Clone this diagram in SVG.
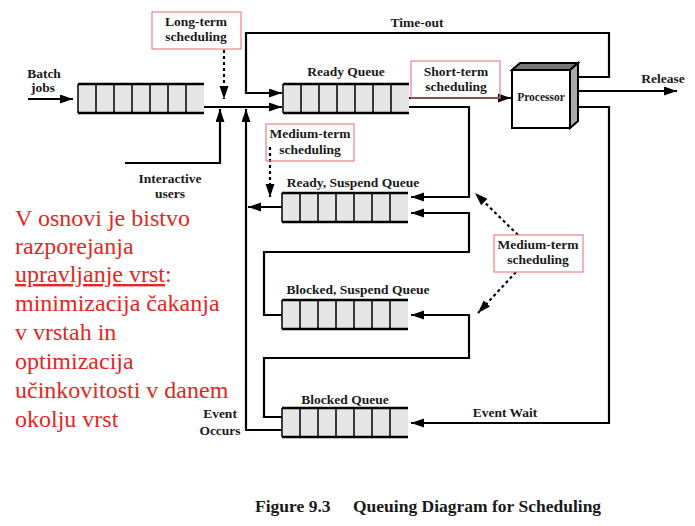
<svg xmlns="http://www.w3.org/2000/svg" width="695" height="526" viewBox="0 0 695 526">
<defs>
<marker id="ah" markerUnits="userSpaceOnUse" markerWidth="14" markerHeight="10" refX="13" refY="4.5" orient="auto">
<path d="M0,0 L13,4.5 L0,9 z" fill="#000"/>
</marker>
<g id="q">
<rect x="0" y="0" width="126" height="29" fill="#e6e6e6"/>
<path d="M0,0 V29 M18,0 V29 M36,0 V29 M54,0 V29 M72,0 V29 M90,0 V29 M108,0 V29" stroke="#000" stroke-width="1.5" fill="none"/>
<path d="M0,0 H126 M0,29 H126" stroke="#000" stroke-width="2.5" fill="none"/>
</g>
</defs>
<style>
.l{font-family:"Liberation Serif","Times New Roman",serif;font-weight:bold;font-size:13.5px;fill:#1a1a1a;text-anchor:middle}
.c{fill:none;stroke:#000;stroke-width:2.2}
.d{fill:none;stroke:#000;stroke-width:2.2;stroke-dasharray:3,3}
.b{fill:#fff;stroke:#ee8080;stroke-width:1.2}
.r{font-family:"Liberation Serif","Times New Roman",serif;font-size:24px;fill:#e5261e}
.cap{font-family:"Liberation Serif","Times New Roman",serif;font-weight:bold;font-size:17.5px;fill:#1a1a1a}
</style>
<rect width="695" height="526" fill="#fff"/>

<g id="connectors">
<path class="c" d="M28,99 H73" marker-end="url(#ah)"/>
<path class="c" d="M204,107 H282" marker-end="url(#ah)"/>
<path class="c" d="M125,163 H220 V109" marker-end="url(#ah)"/>
<path class="c" d="M575,77 H609 V33 H246 V93 H282" marker-end="url(#ah)"/>
<path class="c" d="M409,98 H511" marker-end="url(#ah)"/>
<path class="c" d="M576,91 H677" marker-end="url(#ah)"/>
<path class="c" d="M576,107 H609 V423 H411" marker-end="url(#ah)"/>
<path class="c" d="M409,107 H469 V197 H411" marker-end="url(#ah)"/>
<path class="c" d="M282,315 H264 V252 H469 V213 H411" marker-end="url(#ah)"/>
<path class="c" d="M282,417 H264 V358 H469 V315 H411" marker-end="url(#ah)"/>
<path class="c" d="M282,430 H246 V109" marker-end="url(#ah)"/>
<path class="c" d="M282,207 H248" marker-end="url(#ah)"/>
<path class="d" d="M224,50 V99" marker-end="url(#ah)"/>
<path class="d" d="M270,147 V197" marker-end="url(#ah)"/>
<path class="d" d="M518,235 L475,193" marker-end="url(#ah)"/>
<path class="d" d="M516,272 L478,313" marker-end="url(#ah)"/>
</g>

<g id="batch-queue">
<use href="#q" x="78" y="84"/>
<text class="l" x="44" y="78">Batch</text>
<text class="l" x="43" y="92">jobs</text>
</g>
<g id="ready-queue">
<use href="#q" x="283" y="84"/>
<text class="l" x="346" y="76">Ready Queue</text>
</g>
<g id="ready-suspend-queue">
<use href="#q" x="282" y="193"/>
<text class="l" x="353" y="187">Ready, Suspend Queue</text>
</g>
<g id="blocked-suspend-queue">
<use href="#q" x="282" y="300"/>
<text class="l" x="358" y="294">Blocked, Suspend Queue</text>
</g>
<g id="blocked-queue">
<use href="#q" x="282" y="408"/>
<text class="l" x="345" y="404">Blocked Queue</text>
</g>
<g id="processor">
<polygon points="512,70 520,63 578,63 570,70" fill="#777" stroke="#000" stroke-width="2"/>
<polygon points="570,70 578,63 578,121 570,128" fill="#aaa" stroke="#000" stroke-width="2"/>
<rect x="512" y="70" width="58" height="58" fill="#fff" stroke="#000" stroke-width="2"/>
<text class="l" x="541" y="101" style="font-size:11.5px">Processor</text>
</g>
<g id="long-term">
<rect class="b" x="152" y="12" width="89" height="37"/>
<text class="l" x="196" y="26">Long-term</text>
<text class="l" x="196" y="41">scheduling</text>
</g>
<g id="short-term">
<rect class="b" x="411" y="61" width="89" height="37" fill="none" style="fill:none"/>
<text class="l" x="456" y="76">Short-term</text>
<text class="l" x="456" y="91">scheduling</text>
</g>
<g id="medium-term-1">
<rect class="b" x="266" y="124" width="88" height="37" style="fill:none"/>
<text class="l" x="310" y="138">Medium-term</text>
<text class="l" x="310" y="154">scheduling</text>
</g>
<g id="medium-term-2">
<rect class="b" x="494" y="235" width="89" height="37"/>
<text class="l" x="538" y="249">Medium-term</text>
<text class="l" x="538" y="264">scheduling</text>
</g>
<g id="labels">
<text class="l" x="417" y="27">Time-out</text>
<text class="l" x="663" y="83">Release</text>
<text class="l" x="170" y="183">Interactive</text>
<text class="l" x="170" y="198">users</text>
<text class="l" x="220" y="418">Event</text>
<text class="l" x="220" y="435">Occurs</text>
<text class="l" x="505" y="417">Event Wait</text>
</g>
<g id="note">
<text class="r" x="15" y="226">V osnovi je bistvo</text>
<text class="r" x="15" y="254">razporejanja</text>
<text class="r" x="15" y="282"><tspan text-decoration="underline">upravljanje vrst</tspan>:</text>
<text class="r" x="15" y="311">minimizacija čakanja</text>
<text class="r" x="15" y="340">v vrstah in</text>
<text class="r" x="15" y="369">optimizacija</text>
<text class="r" x="15" y="398">učinkovitosti v danem</text>
<text class="r" x="15" y="427">okolju vrst</text>
</g>
<g id="caption">
<text class="cap" x="255" y="512">Figure 9.3</text>
<text class="cap" x="353" y="512">Queuing Diagram for Scheduling</text>
</g>
</svg>
